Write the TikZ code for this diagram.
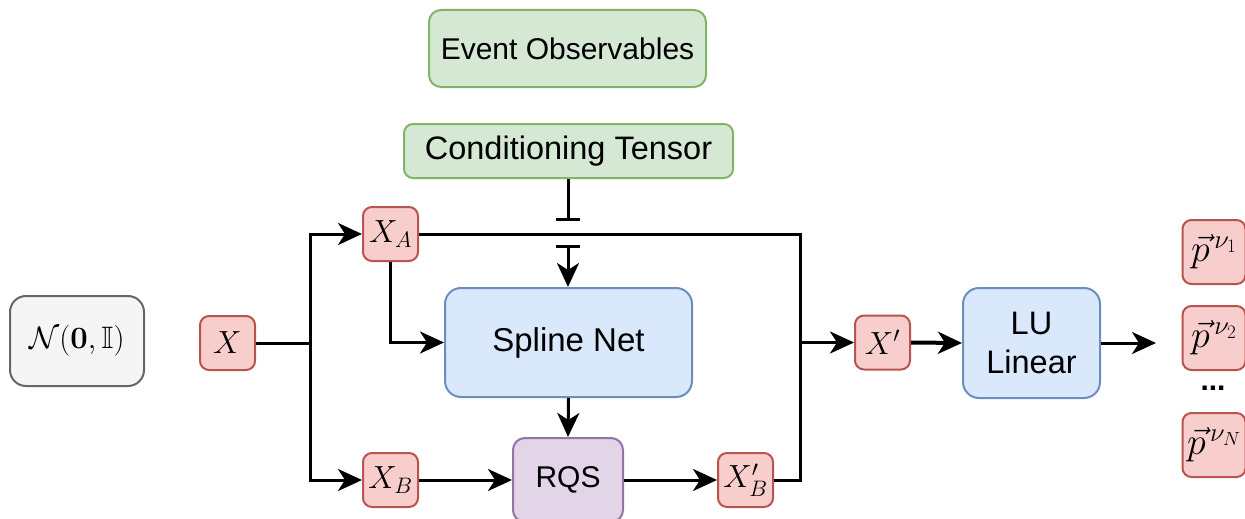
\documentclass[tikz,border=0pt]{standalone}
\usepackage{fix-cm}
\usepackage{amsmath,amssymb}
\usepackage[no-math]{fontspec}
\setmainfont{Liberation Sans}
\usetikzlibrary{arrows.meta}

\definecolor{gfill}{HTML}{D5E8D4}\definecolor{gline}{HTML}{82B366}
\definecolor{rfill}{HTML}{F8CECC}\definecolor{rline}{HTML}{B85450}
\definecolor{bfill}{HTML}{DAE8FC}\definecolor{bline}{HTML}{6C8EBF}
\definecolor{pfill}{HTML}{E1D5E7}\definecolor{pline}{HTML}{9673A6}
\definecolor{nfill}{HTML}{F5F5F5}\definecolor{nline}{HTML}{666666}

\tikzset{
  box/.style={rectangle, rounded corners=12pt, line width=2pt, inner sep=0pt, align=center,
              font=\fontsize{30}{36}\selectfont},
  gbox/.style={box, fill=gfill, draw=gline},
  bbox/.style={box, fill=bfill, draw=bline, rounded corners=16pt, font=\fontsize{32.5}{39}\selectfont},
  pbox/.style={box, fill=pfill, draw=pline},
  nbox/.style={box, fill=nfill, draw=nline, rounded corners=16pt},
  rbox/.style={box, fill=rfill, draw=rline, rounded corners=9pt,
               minimum width=55pt, minimum height=54pt, font=\fontsize{32}{36}\selectfont},
  obox/.style={rbox, minimum width=63pt, minimum height=64pt, font=\fontsize{38}{42}\selectfont},
  wire/.style={line width=3pt, black},
  arr/.style={wire, -{Stealth[length=24pt, width=22pt, inset=7pt]}},
}

\begin{document}
\begin{tikzpicture}[x=1pt, y=-1pt]
\useasboundingbox (0,0) rectangle (1245,519);

% conditioning inputs
\node[gbox, minimum width=277pt, minimum height=77pt, font=\fontsize{30}{34}\selectfont] (evt) at (567.5,48.5) {Event Observables};
\node[gbox, minimum width=329pt, minimum height=54pt, rounded corners=9pt, font=\fontsize{32.5}{36}\selectfont] (ct) at (568.5,151) {Conditioning Tensor};

% base distribution and input
\node[nbox, minimum width=134pt, minimum height=90pt, font=\fontsize{31}{36}\selectfont] (gauss) at (77,341) {$\mathcal{N}(\mathbf{0},\mathbb{I})$};
\node[rbox] (x) at (227.5,343) {$X$};

% coupling layer
\node[rbox] (xa) at (390.5,234) {$X_A$};
\node[rbox] (xb) at (390.5,480) {$X_B$};
\node[bbox, minimum width=247pt, minimum height=109pt, font=\fontsize{33}{39}\selectfont] (spline) at (568.5,342.5) {Spline Net};
\node[pbox, minimum width=110pt, minimum height=84pt] (rqs) at (568,480) {RQS};
\node[rbox] (xbp) at (745.5,480) {$X'_B$};
\node[rbox] (xp) at (882.5,342.5) {$X'$};

% linear layer and outputs
\node[bbox, minimum width=137pt, minimum height=110pt] (lu) at (1031.5,343) {LU\\Linear};
\node[obox] (p1) at (1214,252) {$\vec{p}^{\,\nu_1}$};
\node[obox] (p2) at (1214,338) {$\vec{p}^{\,\nu_2}$};
\node[font=\fontsize{30}{30}\selectfont\bfseries, inner sep=0pt] (dots) at (1213,388) {...};
\node[obox] (pN) at (1214,445) {$\vec{p}^{\,\nu_N}$};

% junction points
\coordinate (split) at (310,343);
\coordinate (join) at (800,342.5);
\coordinate (ctend) at (568,221);
\coordinate (ctres) at (568,245);
\coordinate (out) at (1156,343);

% split of the input
\draw[wire] (x.east) -- (split);
\draw[arr] (split) |- (xa.west);
\draw[arr] (split) |- (xb.west);

% identity branch and spline branch
\draw[wire] (xa.east) -| (join);
\draw[arr] (xa.south) |- (spline.west);
\draw[arr] (xb.east) -- (rqs.west);
\draw[arr] (rqs.east) -- (xbp.west);
\draw[wire] (xbp.east) -| (join);
\draw[arr] (join) -- (xp.west);
\draw[arr] (spline.south) -- (rqs.north);

% conditioning line hopping over the identity branch
\draw[wire, -{Bar[width=24pt]}] (ct.south -| ctend) -- (ctend);
\draw[wire, {Bar[width=24pt]}-{Stealth[length=24pt, width=22pt, inset=7pt]}] (ctres) -- (spline.north -| ctres);

% linear layer
\draw[arr, line width=4pt] (xp.east) -- (lu.west);
\draw[arr] (lu.east) -- (out);
\end{tikzpicture}
\end{document}
